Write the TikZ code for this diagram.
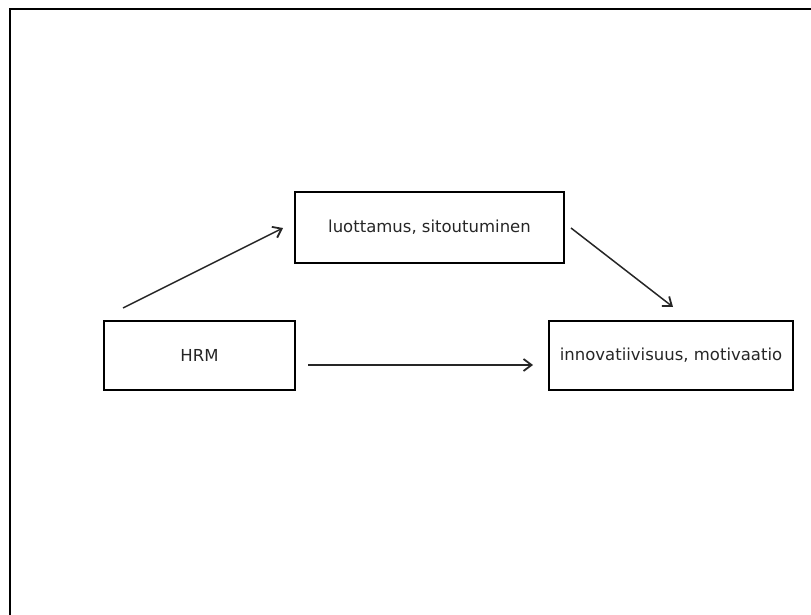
\documentclass[tikz,border=0pt]{standalone}
\usepackage{fontspec}
\setmainfont{DejaVu Sans}
\usetikzlibrary{arrows.meta}
\begin{document}
\begin{tikzpicture}[x=1pt,y=-1pt,
  box/.style={draw=black,line width=1.3pt,inner sep=0pt,font=\fontsize{16.5}{19}\selectfont,text=black!85},
  link/.style={draw=black!85,line width=1.5pt,-{Straight Barb[length=8pt,width=12pt,line width=1.8pt]}}]
  % page extent
  \useasboundingbox (0,0) rectangle (811,615);
  % outer frame: only the top and left borders lie inside the page
  \draw[line width=2.6pt] (10,640) -- (10,9) -- (830,9);
  % boxes
  \node[box,minimum width=269pt,minimum height=71pt] (mid) at (429.5,227.5) {luottamus, sitoutuminen};
  \node[box,minimum width=191pt,minimum height=69pt] (hrm) at (199.5,355.5) {HRM};
  \node[box,minimum width=244pt,minimum height=69pt] (out) at (671,355.5) {innovatiivisuus, motivaatio};
  % connector end points
  \coordinate (a1s) at (123,308);
  \coordinate (a1e) at (283,228);
  \coordinate (a2s) at (571,228);
  \coordinate (a2e) at (673,307);
  \coordinate (a3s) at (308,365);
  \coordinate (a3e) at (533,365);
  % connectors
  \draw[link] (a1s) -- (a1e);
  \draw[link] (a2s) -- (a2e);
  \draw[link] (a3s) -- (a3e);
\end{tikzpicture}
\end{document}
